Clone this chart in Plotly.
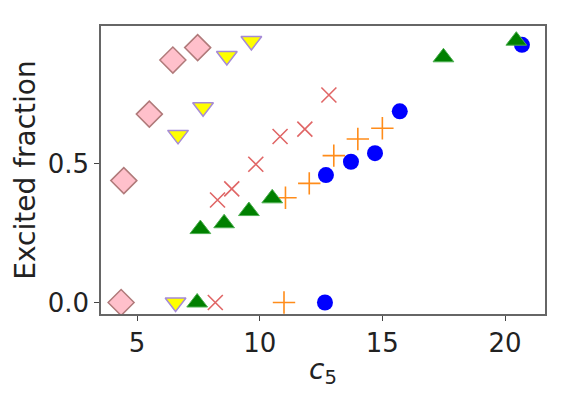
"""Excited fraction vs c5 scatter -> HTML."""
import plotly.graph_objects as go

# pink diamonds
dia_x = [4.35, 4.46, 5.5, 6.46, 7.47]
dia_y = [0.0, 0.44, 0.68, 0.875, 0.92]
# yellow down triangles
tdn_x = [6.57, 6.67, 7.69, 8.66, 9.66]
tdn_y = [0.0, 0.605, 0.705, 0.89, 0.944]
# red crosses
xx_x = [8.19, 8.28, 8.86, 9.84, 10.83, 11.84, 12.82]
xx_y = [0.0, 0.37, 0.41, 0.499, 0.599, 0.626, 0.749]
# orange plus
pl_x = [10.99, 11.05, 12.02, 13.02, 14.0, 15.0]
pl_y = [0.0, 0.378, 0.43, 0.53, 0.59, 0.629]
# blue circles
ci_x = [12.66, 12.70, 13.72, 14.7, 15.71, 20.69]
ci_y = [0.0, 0.46, 0.508, 0.539, 0.69, 0.93]
# green up triangles
tup_x = [7.45, 7.58, 8.55, 9.56, 10.51, 17.49, 20.46]
tup_y = [0.0, 0.265, 0.286, 0.33, 0.376, 0.885, 0.945]

fig = go.Figure()
fig.add_scatter(x=dia_x, y=dia_y, mode="markers",
                marker=dict(symbol="diamond", size=20, color="#ffc0cb",
                            line=dict(color="#b07a7a", width=1.5)))
fig.add_scatter(x=tdn_x, y=tdn_y, mode="markers",
                marker=dict(symbol="triangle-down", size=18, color="#ffff00",
                            line=dict(color="#a58ad8", width=1.5)))
fig.add_scatter(x=xx_x, y=xx_y, mode="markers",
                marker=dict(symbol="x-thin-open", size=15, color="#e06666",
                            line=dict(color="#e06666", width=1.6)))
fig.add_scatter(x=pl_x, y=pl_y, mode="markers",
                marker=dict(symbol="cross-thin-open", size=16, color="#ff8c1a",
                            line=dict(color="#ff8c1a", width=1.6)))
fig.add_scatter(x=ci_x, y=ci_y, mode="markers",
                marker=dict(symbol="circle", size=16, color="#0000ff",
                            line=dict(width=0)))
fig.add_scatter(x=tup_x, y=tup_y, mode="markers",
                marker=dict(symbol="triangle-up", size=18, color="#008000",
                            line=dict(color="#4caf50", width=1)))

# page body has an 8px margin, so the figure is sized to sit inside the window
axis_font = dict(family="DejaVu Sans", size=26, color="#222")
fig.update_layout(
    width=554, height=386, showlegend=False,
    plot_bgcolor="white", paper_bgcolor="white",
    margin=dict(l=93, r=17, t=18, b=80),
    xaxis=dict(range=[3.53, 21.63], tickvals=[5, 10, 15, 20], automargin=False,
               showgrid=False, zeroline=False, showline=True, mirror=True,
               linecolor="#666", linewidth=1.5, ticks="outside", ticklen=5,
               tickcolor="#444", tickfont=axis_font,
               title=dict(text="<i>c</i><sub>5</sub>",
                          font=dict(family="DejaVu Sans", size=28, color="#222"),
                          standoff=2)),
    yaxis=dict(range=[-0.0415, 0.998], tickvals=[0, 0.5], ticktext=["0.0", "0.5"],
               automargin=False,
               showgrid=False, zeroline=False, showline=True, mirror=True,
               linecolor="#666", linewidth=1.5, ticks="outside", ticklen=5,
               tickcolor="#444", tickfont=axis_font,
               title=dict(text="Excited fraction",
                          font=dict(family="DejaVu Sans", size=28, color="#222"),
                          standoff=4)),
)
fig.write_html("out.html")
